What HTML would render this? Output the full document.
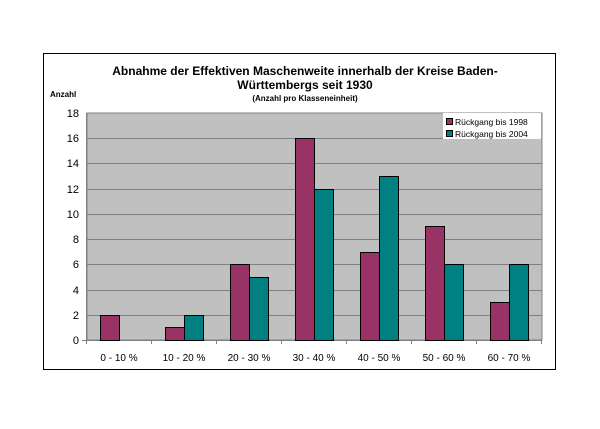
<!DOCTYPE html><html><head><style>body{margin:0;background:#fff}</style></head><body>
<svg width="600" height="424" xmlns="http://www.w3.org/2000/svg" font-family="Liberation Sans, sans-serif">
<rect x="0" y="0" width="600" height="424" fill="#fff"/>
<rect x="43.5" y="53.5" width="512" height="316" fill="#fff" stroke="#000" stroke-width="1"/>
<text x="305" y="75" font-size="12" font-weight="bold" text-anchor="middle">Abnahme der Effektiven Maschenweite innerhalb der Kreise Baden-</text>
<text x="305" y="89" font-size="12" font-weight="bold" text-anchor="middle">Württembergs seit 1930</text>
<text x="305" y="101" font-size="8" font-weight="bold" text-anchor="middle">(Anzahl pro Klasseneinheit)</text>
<text x="50" y="97" font-size="8" font-weight="bold">Anzahl</text>
<rect x="87" y="113" width="455" height="227" fill="#c0c0c0" stroke="#808080"/>
<g stroke="#808080" stroke-width="1">
<line x1="87" y1="315.5" x2="542" y2="315.5"/><line x1="87" y1="290.5" x2="542" y2="290.5"/>
<line x1="87" y1="264.5" x2="542" y2="264.5"/><line x1="87" y1="239.5" x2="542" y2="239.5"/>
<line x1="87" y1="214.5" x2="542" y2="214.5"/><line x1="87" y1="189.5" x2="542" y2="189.5"/>
<line x1="87" y1="163.5" x2="542" y2="163.5"/><line x1="87" y1="138.5" x2="542" y2="138.5"/>
<line x1="87" y1="340.5" x2="542" y2="340.5"/>
<line x1="86.5" y1="113" x2="86.5" y2="344"/>
<line x1="82" y1="340.5" x2="87" y2="340.5"/>
</g>
<g font-size="11" text-anchor="end">
<text x="79" y="344">0</text><text x="79" y="319">2</text><text x="79" y="294">4</text><text x="79" y="268">6</text><text x="79" y="243">8</text><text x="79" y="218">10</text><text x="79" y="193">12</text><text x="79" y="167">14</text><text x="79" y="142">16</text><text x="79" y="117">18</text>
</g>
<g stroke="#000" stroke-width="1">
<rect x="100.5" y="315.5" width="19" height="25" fill="#993366"/>
<rect x="165.5" y="327.5" width="19" height="13" fill="#993366"/><rect x="184.5" y="315.5" width="19" height="25" fill="#008080"/>
<rect x="230.5" y="264.5" width="19" height="76" fill="#993366"/><rect x="249.5" y="277.5" width="19" height="63" fill="#008080"/>
<rect x="295.5" y="138.5" width="19" height="202" fill="#993366"/><rect x="314.5" y="189.5" width="19" height="151" fill="#008080"/>
<rect x="360.5" y="252.5" width="19" height="88" fill="#993366"/><rect x="379.5" y="176.5" width="19" height="164" fill="#008080"/>
<rect x="425.5" y="226.5" width="19" height="114" fill="#993366"/><rect x="444.5" y="264.5" width="19" height="76" fill="#008080"/>
<rect x="490.5" y="302.5" width="19" height="38" fill="#993366"/><rect x="509.5" y="264.5" width="19" height="76" fill="#008080"/>
</g>
<g stroke="#808080"><line x1="151.5" y1="340" x2="151.5" y2="344"/><line x1="216.5" y1="340" x2="216.5" y2="344"/><line x1="281.5" y1="340" x2="281.5" y2="344"/><line x1="346.5" y1="340" x2="346.5" y2="344"/><line x1="411.5" y1="340" x2="411.5" y2="344"/><line x1="476.5" y1="340" x2="476.5" y2="344"/><line x1="541.5" y1="340" x2="541.5" y2="344"/></g>
<g font-size="10" text-anchor="middle">
<text x="119" y="361">0 - 10 %</text><text x="184" y="361">10 - 20 %</text><text x="249" y="361">20 - 30 %</text><text x="314" y="361">30 - 40 %</text><text x="379" y="361">40 - 50 %</text><text x="444" y="361">50 - 60 %</text><text x="509" y="361">60 - 70 %</text>
</g>
<rect x="443" y="113" width="98" height="26" fill="#fff"/>
<rect x="446.5" y="118.5" width="6" height="6" fill="#993366" stroke="#000"/>
<rect x="446.5" y="130.5" width="6" height="6" fill="#008080" stroke="#000"/>
<text x="455" y="125" font-size="8.5">Rückgang bis 1998</text>
<text x="455" y="137" font-size="8.5">Rückgang bis 2004</text>
</svg>
</body></html>
